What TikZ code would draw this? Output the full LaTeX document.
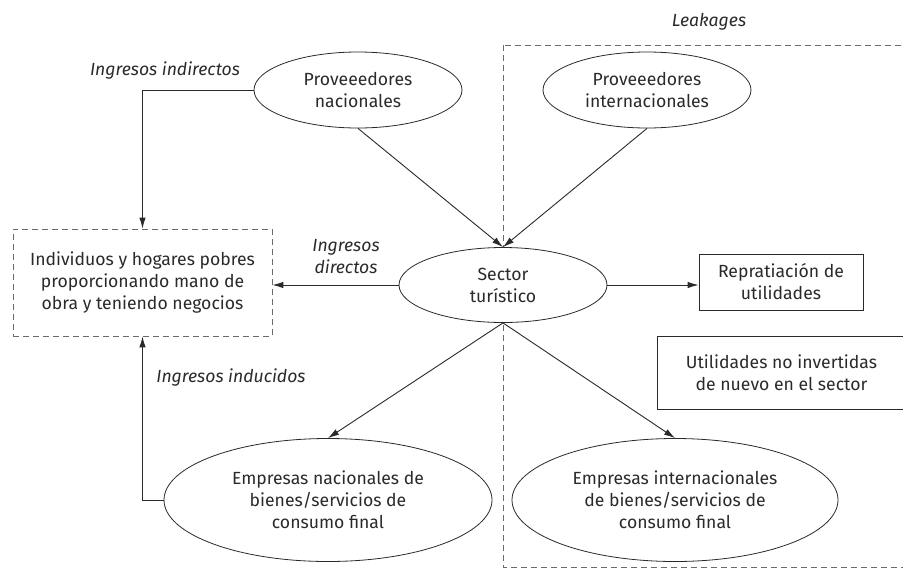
\documentclass[tikz,border=0pt]{standalone}
\usepackage{fontspec}
\setmainfont{Fira Sans}
\usetikzlibrary{shapes.geometric,arrows.meta}
\definecolor{ink}{HTML}{2A2A2A}
\definecolor{dash}{HTML}{6A6A6A}
\tikzset{
  txt/.style={font=\fontsize{17.6}{22}\selectfont, text=ink, align=center},
  ell/.style={ellipse, draw=ink, fill=white, line width=0.8pt, inner sep=0pt, txt},
  box/.style={rectangle, draw=ink, fill=white, line width=0.8pt, inner sep=0pt, txt},
  dbox/.style={rectangle, draw=dash, dash pattern=on 6pt off 4pt, fill=white, line width=0.8pt, inner sep=0pt, txt},
  lbl/.style={txt, font=\fontsize{17.6}{22}\selectfont\itshape},
  arr/.style={draw=ink, line width=0.9pt, -{Latex[length=11pt,width=6.5pt]}},
}
\begin{document}
\begin{tikzpicture}[x=1pt,y=-1pt]
\clip (0,0) rectangle (903,582);
\fill[white] (0,0) rectangle (903,582);
% leakages region
\draw[draw=dash, dash pattern=on 6pt off 4pt, line width=0.8pt] (503,45) rectangle (915,567);
\node[lbl] (leak) at (709,22) {Leakages};
% nodes
\node[ell, minimum width=208, minimum height=76] (pn) at (358,90) {Proveeedores\\nacionales};
\node[ell, minimum width=208, minimum height=76] (pi) at (647,90) {Proveeedores\\internacionales};
\node[ell, minimum width=208, minimum height=75] (st) at (503,285) {Sector\\turístico};
\node[ell, minimum width=328, minimum height=123] (en) at (328,500) {Empresas nacionales de\\bienes/servicios de\\consumo final};
\node[ell, minimum width=326, minimum height=123] (ei) at (675,500) {Empresas internacionales\\de bienes/servicios de\\consumo final};
\node[dbox, minimum width=259, minimum height=107] (ind) at (142.5,282.5) {Individuos y hogares pobres\\proporcionando mano de\\obra y teniendo negocios};
\node[box, minimum width=164, minimum height=56] (rep) at (781,282) {Repratiación de\\utilidades};
\node[box, minimum width=249, minimum height=73] (util) at (781.5,372.5) {Utilidades no invertidas\\de nuevo en el sector};
% labels
\node[lbl] (li) at (165,71) {Ingresos indirectos};
\node[lbl] (ld) at (346,257) {Ingresos\\directos};
\node[lbl] (lu) at (231,378) {Ingresos inducidos};
% connectors
\draw[arr] (pn.west) -| (ind.north);
\draw[arr] (en.west) -| (ind.south);
\draw[arr] (st.west) -- (st.west -| ind.east);
\draw[arr] (st.east) -- (st.east -| rep.west);
\draw[arr] (pn.south) -- (st.north);
\draw[arr] (pi.south) -- (st.north);
\draw[arr] (st.south) -- (en.north);
\draw[arr] (st.south) -- (ei.north);
\end{tikzpicture}
\end{document}
